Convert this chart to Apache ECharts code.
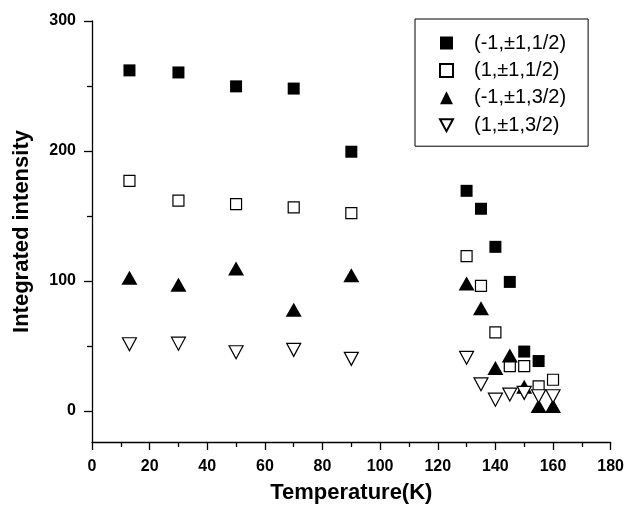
<!DOCTYPE html>
<html>
<head>
<meta charset="utf-8">
<script src="https://cdn.jsdelivr.net/npm/echarts@6/dist/echarts.min.js"></script>
<style>html,body{margin:0;padding:0;background:#fff}#c{width:627px;height:509px}</style>
</head>
<body>
<div id="c"></div>
<script>
// Temperatures (K)
const tempsA = [13, 30, 50, 70, 90, 130, 135, 140, 145, 150, 155];
const tempsB = [13, 30, 50, 70, 90, 130, 135, 140, 145, 150, 155, 160];
// Integrated intensity per reflection
const filledSquare = [262, 260.4, 249.7, 248, 199.4, 169.3, 155.5, 126.2, 99.2, 45.6, 38.3];
const openSquare = [177, 161.7, 159.1, 156.5, 152.2, 119, 96.1, 60.4, 34.4, 34.4, 18.8, 23.9];
const filledTriangle = [102.5, 97, 109.6, 77.7, 104.3, 97.9, 79, 32.9, 42.5, 18.6, 3.8, 3.8];
const openTriangle = [51.2, 51.7, 45.1, 46.9, 40, 40.8, 20.4, 8.6, 12.5, 13.8, 11.2, 11.2];
const seriesNames = ['(-1,\u00b11,1/2)', '(1,\u00b11,1/2)', '(-1,\u00b11,3/2)', '(1,\u00b11,3/2)'];
const yLabels = [0, 100, 200, 300];
const yMinor = [50, 150, 250];

const pair = (xs, ys) => ys.map((v, i) => [xs[i], v]);
const FONT = 'Liberation Sans, Arial, sans-serif';
const downTri = 'path://M0,0L14,0L7,13Z';
const tickStyle = {color: '#000', width: 1.3};

const chart = echarts.init(document.getElementById('c'), null, {renderer: 'canvas'});
chart.setOption({
  animation: false,
  backgroundColor: '#fff',
  grid: {left: 92, right: 13, top: 21, height: 423},
  legend: {
    orient: 'vertical', left: 415, top: 19,
    padding: [14, 22, 11, 24],
    itemWidth: 13, itemHeight: 13, itemGap: 7.4,
    borderColor: '#000', borderWidth: 1,
    textStyle: {fontSize: 20, fontFamily: FONT, color: '#000', padding: [0, 0, 0, 16]},
    data: seriesNames
  },
  xAxis: {
    type: 'value', min: 0, max: 180, interval: 20,
    name: 'Temperature(K)', nameLocation: 'middle', nameGap: 40,
    nameTextStyle: {fontSize: 22, fontWeight: 'bold', fontFamily: FONT, color: '#000'},
    axisLine: {show: true, onZero: false, lineStyle: tickStyle},
    axisTick: {show: true, inside: false, length: 8, lineStyle: tickStyle},
    minorTick: {show: true, splitNumber: 2, length: 5, lineStyle: tickStyle},
    splitLine: {show: false},
    axisLabel: {fontSize: 16, fontWeight: 'bold', fontFamily: FONT, color: '#000', margin: 17}
  },
  yAxis: [{
    type: 'value', min: -24, max: 300,
    name: 'Integrated intensity', nameLocation: 'middle', nameGap: 59,
    nameTextStyle: {fontSize: 22, fontWeight: 'bold', fontFamily: FONT, color: '#000'},
    axisLine: {show: true, onZero: false, lineStyle: tickStyle},
    axisTick: {show: true, inside: false, length: 8, customValues: yLabels, lineStyle: tickStyle},
    splitLine: {show: false},
    axisLabel: {customValues: yLabels, fontSize: 16, fontWeight: 'bold', fontFamily: FONT, color: '#000', margin: 16}
  }, {
    type: 'value', min: -24, max: 300, position: 'left',
    axisLine: {show: false, onZero: false},
    axisTick: {show: true, inside: false, length: 5, customValues: yMinor, lineStyle: tickStyle},
    splitLine: {show: false},
    axisLabel: {show: false, customValues: yMinor}
  }],
  series: [
    {name: seriesNames[0], type: 'scatter', symbol: 'rect', symbolSize: 12, z: 2,
     itemStyle: {color: '#000', borderColor: '#000', borderWidth: 0, opacity: 1},
     data: pair(tempsA, filledSquare)},
    {name: seriesNames[1], type: 'scatter', symbol: 'rect', symbolSize: 11, z: 3,
     itemStyle: {color: '#fff', borderColor: '#000', borderWidth: 1.2, opacity: 1},
     data: pair(tempsB, openSquare)},
    {name: seriesNames[2], type: 'scatter', symbol: 'triangle', symbolSize: [16, 14], z: 4,
     itemStyle: {color: '#000', borderColor: '#000', borderWidth: 0, opacity: 1},
     data: pair(tempsB, filledTriangle)},
    {name: seriesNames[3], type: 'scatter', symbol: downTri, symbolSize: [14, 13], z: 5,
     itemStyle: {color: '#fff', borderColor: '#000', borderWidth: 1.2, opacity: 1},
     data: pair(tempsB, openTriangle)}
  ]
});
</script>
</body>
</html>
